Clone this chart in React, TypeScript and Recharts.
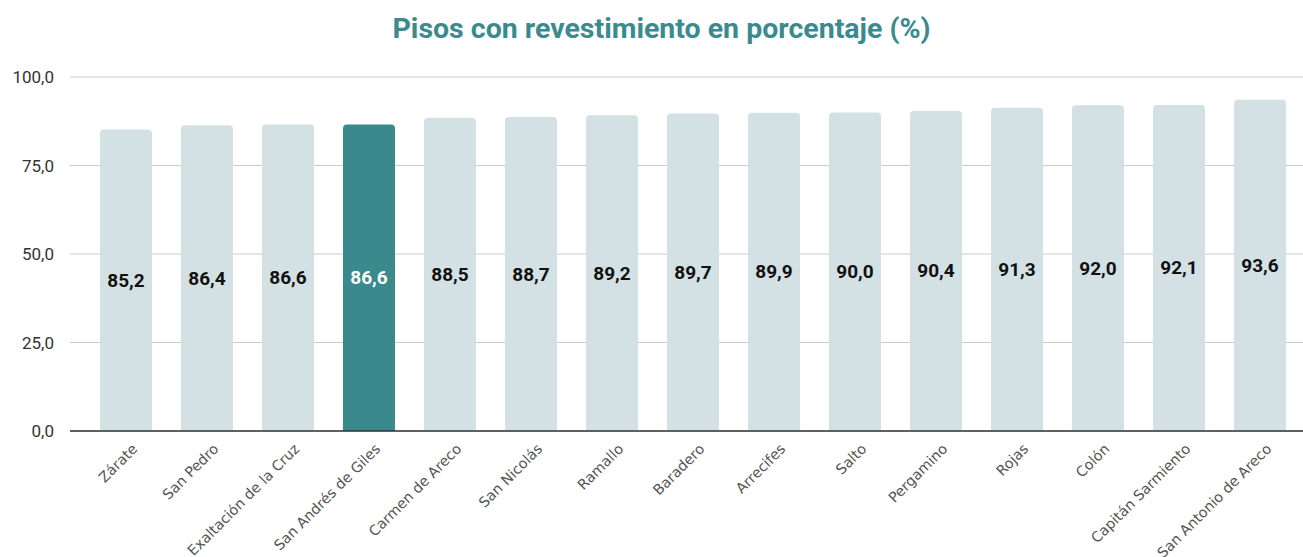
import { Bar, BarChart, CartesianGrid, Cell, LabelList, XAxis, YAxis } from "recharts";

const partidos = [
  "Zárate",
  "San Pedro",
  "Exaltación de la Cruz",
  "San Andrés de Giles",
  "Carmen de Areco",
  "San Nicolás",
  "Ramallo",
  "Baradero",
  "Arrecifes",
  "Salto",
  "Pergamino",
  "Rojas",
  "Colón",
  "Capitán Sarmiento",
  "San Antonio de Areco",
];
const porcentajes = [85.2, 86.4, 86.6, 86.6, 88.5, 88.7, 89.2, 89.7, 89.9, 90.0, 90.4, 91.3, 92.0, 92.1, 93.6];
const destacado = "San Andrés de Giles";
const yTicks = [0, 25, 50, 75, 100];

const data = partidos.map((name, i) => ({ name, value: porcentajes[i] }));

const fmt = (v: number) => v.toFixed(1).replace(".", ",");

const XTick = (props: any) => {
  const { x, y, payload } = props;
  return (
    <g transform={`translate(${x + 10},${y + 8})`}>
      <text
        textAnchor="end"
        transform="rotate(-45)"
        fontFamily="DejaVu Sans"
        fontSize={14.3}
        fill="#555"
        dy={4}
      >
        {payload.value}
      </text>
    </g>
  );
};

const ValueLabel = (props: any) => {
  const { x, y, width, height, value, index } = props;
  const isHl = partidos[index] === destacado;
  return (
    <text
      x={x + width / 2}
      y={y + height / 2}
      textAnchor="middle"
      dominantBaseline="central"
      fontFamily="Roboto"
      fontWeight="bold"
      fontSize={19}
      fill={isHl ? "#ffffff" : "#111111"}
    >
      {fmt(value)}
    </text>
  );
};

export default function App() {
  return (
    <div style={{ position: "absolute", left: 0, top: 0, width: 1303, height: 557, background: "#fff" }}>
      <div
        style={{
          position: "absolute",
          top: 12,
          left: 0,
          width: 1323,
          textAlign: "center",
          fontFamily: "Roboto",
          fontWeight: "bold",
          fontSize: 28.5,
          color: "#3a8a8e",
        }}
      >
        Pisos con revestimiento en porcentaje (%)
      </div>
      <BarChart
        width={1303}
        height={557}
        data={data}
        margin={{ top: 77, right: 0, bottom: 0, left: 0 }}
        barSize={52}
      >
        <CartesianGrid vertical={false} stroke="#cccccc" strokeWidth={1.2} />
        <XAxis
          dataKey="name"
          interval={0}
          height={126}
          tickLine={false}
          stroke="#333"
          strokeWidth={1.5}
          padding={{ left: 15, right: 3 }}
          tick={<XTick />}
        />
        <YAxis
          domain={[0, 100]}
          ticks={yTicks}
          width={70}
          axisLine={false}
          tickLine={false}
          tickMargin={10}
          tickFormatter={fmt}
          tick={{ fontFamily: "Roboto", fontSize: 17, fill: "#333" }}
        />
        <Bar dataKey="value" radius={[4, 4, 0, 0]} isAnimationActive={false}>
          {data.map((d) => (
            <Cell key={d.name} fill={d.name === destacado ? "#3a898d" : "#d3e1e4"} />
          ))}
          <LabelList dataKey="value" content={<ValueLabel />} />
        </Bar>
      </BarChart>
    </div>
  );
}
